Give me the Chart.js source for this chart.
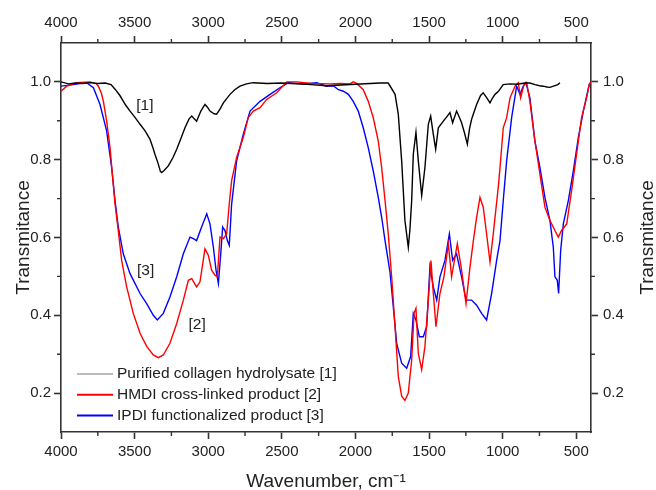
<!DOCTYPE html>
<html>
<head>
<meta charset="utf-8">
<script src="https://cdn.jsdelivr.net/npm/chart.js@4"></script>
<style>
  html, body { margin: 0; padding: 0; background: #fff; }
  #wrap { width: 656px; height: 490px; position: relative; }
</style>
</head>
<body>
<div id="wrap"><canvas id="ftir"></canvas></div>
<script>
// FTIR spectra: transmittance vs wavenumber (cm-1)
const seriesNames = [
    'Purified collagen hydrolysate [1]',
    'HMDI cross-linked product [2]',
    'IPDI functionalized product [3]'
];
const seriesColors = ['#000000', '#ff0000', '#0000ff'];

const collagenWn = [4000, 3950, 3900, 3850, 3800, 3750, 3700, 3660, 3630, 3600, 3560, 3531, 3500, 3463, 3430, 3396, 3375, 3362, 3340, 3325, 3316, 3300, 3271, 3240, 3214, 3185, 3158, 3130, 3112, 3095, 3079, 3050, 3022, 3005, 2988, 2960, 2943, 2920, 2897, 2852, 2820, 2784, 2740, 2694, 2600, 2500, 2400, 2300, 2200, 2100, 2000, 1900, 1833, 1777, 1731, 1709, 1686, 1664, 1641, 1630, 1618, 1607, 1589, 1573, 1550, 1528, 1505, 1489, 1471, 1455, 1437, 1403, 1380, 1358, 1340, 1313, 1295, 1279, 1260, 1240, 1225, 1211, 1177, 1150, 1132, 1110, 1086, 1070, 1052, 1030, 996, 950, 900, 850, 815, 780, 750, 724, 700, 679, 650, 625, 611];
const collagenT = [1.0, 0.995, 0.997, 0.996, 0.998, 0.996, 0.997, 0.993, 0.98, 0.965, 0.94, 0.925, 0.91, 0.891, 0.875, 0.853, 0.83, 0.814, 0.79, 0.77, 0.767, 0.772, 0.784, 0.805, 0.827, 0.855, 0.882, 0.905, 0.912, 0.905, 0.899, 0.925, 0.942, 0.935, 0.925, 0.918, 0.917, 0.93, 0.946, 0.968, 0.98, 0.989, 0.995, 0.998, 0.996, 0.997, 0.995, 0.993, 0.99, 0.992, 0.994, 0.996, 0.997, 0.997, 0.968, 0.917, 0.797, 0.644, 0.575, 0.62, 0.695, 0.814, 0.87, 0.797, 0.708, 0.78, 0.891, 0.912, 0.865, 0.827, 0.882, 0.899, 0.91, 0.921, 0.895, 0.925, 0.91, 0.895, 0.87, 0.84, 0.88, 0.904, 0.942, 0.965, 0.972, 0.96, 0.946, 0.958, 0.968, 0.975, 0.993, 0.995, 0.994, 0.997, 0.997, 0.993, 0.99, 0.989, 0.987, 0.986, 0.99, 0.993, 0.998];

const hmdiWn = [4000, 3961, 3893, 3803, 3760, 3746, 3725, 3712, 3690, 3667, 3649, 3633, 3611, 3588, 3554, 3509, 3463, 3418, 3373, 3339, 3305, 3260, 3214, 3169, 3135, 3112, 3079, 3056, 3022, 2999, 2977, 2954, 2938, 2920, 2897, 2875, 2857, 2841, 2807, 2762, 2728, 2694, 2648, 2603, 2535, 2467, 2399, 2300, 2173, 2100, 2037, 2015, 1992, 1947, 1913, 1879, 1845, 1822, 1799, 1777, 1754, 1731, 1709, 1686, 1664, 1641, 1618, 1602, 1589, 1573, 1550, 1528, 1505, 1487, 1471, 1453, 1426, 1399, 1369, 1347, 1308, 1279, 1249, 1222, 1199, 1177, 1154, 1132, 1109, 1086, 1064, 1030, 1018, 996, 973, 950, 916, 894, 878, 855, 837, 815, 781, 747, 713, 679, 645, 622, 600, 565, 532, 498, 464, 430, 412, 400];
const hmdiT = [0.976, 0.989, 0.998, 1.0, 0.995, 0.989, 0.97, 0.95, 0.9, 0.831, 0.754, 0.686, 0.618, 0.541, 0.473, 0.405, 0.354, 0.32, 0.298, 0.291, 0.298, 0.328, 0.379, 0.439, 0.49, 0.494, 0.473, 0.486, 0.571, 0.554, 0.516, 0.503, 0.499, 0.601, 0.597, 0.609, 0.686, 0.746, 0.806, 0.857, 0.908, 0.925, 0.934, 0.955, 0.972, 1.0, 1.0, 0.996, 0.995, 0.996, 0.995, 1.0, 0.996, 0.98, 0.95, 0.908, 0.848, 0.78, 0.695, 0.609, 0.499, 0.371, 0.243, 0.192, 0.181, 0.2, 0.285, 0.405, 0.418, 0.302, 0.26, 0.32, 0.439, 0.541, 0.456, 0.371, 0.456, 0.499, 0.584, 0.499, 0.584, 0.516, 0.43, 0.524, 0.592, 0.652, 0.703, 0.678, 0.609, 0.537, 0.609, 0.729, 0.78, 0.882, 0.908, 0.959, 0.989, 0.998, 0.959, 0.993, 0.998, 0.95, 0.848, 0.763, 0.678, 0.644, 0.618, 0.601, 0.618, 0.635, 0.72, 0.814, 0.908, 0.959, 0.993, 1.0];

const ipdiWn = [4000, 3916, 3826, 3780, 3735, 3690, 3656, 3633, 3611, 3577, 3531, 3463, 3418, 3373, 3346, 3305, 3260, 3214, 3169, 3124, 3101, 3079, 3045, 3010, 2988, 2965, 2947, 2931, 2915, 2902, 2886, 2870, 2857, 2841, 2807, 2762, 2716, 2648, 2580, 2513, 2456, 2354, 2263, 2196, 2150, 2116, 2082, 2048, 2015, 1981, 1947, 1913, 1879, 1845, 1822, 1799, 1765, 1743, 1720, 1686, 1652, 1625, 1607, 1589, 1566, 1539, 1516, 1494, 1471, 1448, 1426, 1392, 1362, 1340, 1313, 1279, 1249, 1211, 1177, 1143, 1109, 1075, 1041, 1018, 996, 973, 939, 905, 882, 860, 842, 815, 781, 747, 713, 679, 656, 645, 629, 620, 606, 588, 554, 520, 486, 452, 412, 400];
const ipdiT = [0.989, 0.993, 0.998, 0.985, 0.942, 0.874, 0.78, 0.695, 0.627, 0.558, 0.507, 0.456, 0.43, 0.4, 0.388, 0.405, 0.447, 0.499, 0.558, 0.601, 0.597, 0.592, 0.627, 0.661, 0.635, 0.575, 0.516, 0.482, 0.558, 0.627, 0.618, 0.592, 0.58, 0.686, 0.797, 0.865, 0.925, 0.95, 0.968, 0.985, 0.998, 0.995, 0.998, 0.989, 0.99, 0.98, 0.976, 0.968, 0.95, 0.925, 0.882, 0.831, 0.771, 0.703, 0.652, 0.592, 0.51, 0.422, 0.328, 0.277, 0.264, 0.294, 0.405, 0.388, 0.345, 0.345, 0.371, 0.524, 0.473, 0.439, 0.499, 0.541, 0.609, 0.541, 0.558, 0.499, 0.439, 0.439, 0.426, 0.405, 0.388, 0.456, 0.541, 0.592, 0.695, 0.797, 0.908, 0.989, 0.968, 0.989, 0.998, 0.959, 0.848, 0.78, 0.703, 0.644, 0.575, 0.499, 0.49, 0.456, 0.567, 0.635, 0.695, 0.771, 0.857, 0.925, 0.993, 1.0];

// axis ticks
const xMajorTicks = [4000, 3500, 3000, 2500, 2000, 1500, 1000, 500];
const xMinorTicks = [3750, 3250, 2750, 2250, 1750, 1250, 750];
const yMajorTicks = [0.2, 0.4, 0.6, 0.8, 1.0];
const yMinorTicks = [0.3, 0.5, 0.7, 0.9];

// curve labels
const noteText = ['[1]', '[2]', '[3]'];
const noteWn = [3430, 3075, 3425];
const noteT = [0.94, 0.375, 0.515];

const FONT = "'Liberation Sans', Arial, sans-serif";
const AXIS_COLOR = '#333';
const TEXT_COLOR = '#222';

function toPoints(wn, t) {
    return wn.map((w, i) => ({ x: w, y: t[i] }));
}

const datasets = [
    toPoints(collagenWn, collagenT),
    toPoints(hmdiWn, hmdiT),
    toPoints(ipdiWn, ipdiT)
].map((pts, i) => ({
    label: seriesNames[i],
    data: pts,
    borderColor: seriesColors[i],
    backgroundColor: seriesColors[i],
    borderWidth: 1.4,
    pointRadius: 0,
    tension: 0,
    fill: false
}));

function axisSide(pos, size, ticks, isX) {
    return {
        type: 'linear',
        position: pos,
        min: isX ? 400 : 0.1,
        max: isX ? 4000 : 1.1,
        reverse: isX,
        afterFit: s => { if (isX) s.height = size; else s.width = size; },
        afterBuildTicks: s => { s.ticks = ticks.map(v => ({ value: v })); },
        border: { display: true, color: AXIS_COLOR, width: 1.6 },
        grid: { drawOnChartArea: false, drawTicks: true, tickLength: 7, tickColor: AXIS_COLOR, tickWidth: 1.6 },
        ticks: {
            color: TEXT_COLOR,
            font: { family: FONT, size: 15 },
            maxRotation: 0,
            autoSkip: false,
            padding: pos === 'bottom' ? 4 : pos === 'top' ? 4 : pos === 'left' ? 3 : 5,
            callback: v => isX ? String(v) : Number(v).toFixed(1)
        }
    };
}

// short minor ticks, placed through the scales
const minorTicks = {
    id: 'minorTicks',
    afterDraw(chart) {
        const ctx = chart.ctx;
        const len = 4;
        ctx.save();
        ctx.strokeStyle = AXIS_COLOR;
        ctx.lineWidth = 1.4;
        ctx.beginPath();
        ['x', 'x2'].forEach(id => {
            const s = chart.scales[id];
            xMinorTicks.forEach(v => {
                const px = s.getPixelForValue(v);
                if (id === 'x') { ctx.moveTo(px, s.top); ctx.lineTo(px, s.top + len); }
                else { ctx.moveTo(px, s.bottom); ctx.lineTo(px, s.bottom - len); }
            });
        });
        ['y', 'y2'].forEach(id => {
            const s = chart.scales[id];
            yMinorTicks.forEach(v => {
                const py = s.getPixelForValue(v);
                if (id === 'y') { ctx.moveTo(s.right, py); ctx.lineTo(s.right - len, py); }
                else { ctx.moveTo(s.left, py); ctx.lineTo(s.left + len, py); }
            });
        });
        ctx.stroke();
        ctx.restore();
    }
};

// legend inside the plot, bottom-left, curve labels, right axis title
const insideLegend = {
    id: 'insideLegend',
    afterDatasetsDraw(chart) {
        const ctx = chart.ctx;
        const area = chart.chartArea;
        const x = chart.scales.x, y = chart.scales.y;
        ctx.save();
        ctx.font = '15.5px ' + FONT;
        ctx.textBaseline = 'middle';
        ctx.fillStyle = TEXT_COLOR;
        noteText.forEach((t, i) => {
            ctx.textAlign = 'center';
            ctx.fillText(t, x.getPixelForValue(noteWn[i]), y.getPixelForValue(noteT[i]));
        });
        const rowGap = 20.8;
        const x0 = area.left + 16, x1 = area.left + 52;
        chart.data.datasets.forEach((ds, i) => {
            const py = area.bottom - 58 + i * rowGap;
            ctx.strokeStyle = i === 0 ? '#777' : ds.borderColor;
            ctx.lineWidth = i === 0 ? 1 : 2;
            ctx.beginPath();
            ctx.moveTo(x0, py);
            ctx.lineTo(x1, py);
            ctx.stroke();
            ctx.textAlign = 'left';
            ctx.fillStyle = TEXT_COLOR;
            ctx.fillText(ds.label, x1 + 4, py);
        });
        // right title reads bottom-to-top like the left one
        const r = chart.scales.y2;
        ctx.translate(r.right - 8, (area.top + area.bottom) / 2);
        ctx.rotate(-Math.PI / 2);
        ctx.font = '19px ' + FONT;
        ctx.textAlign = 'center';
        ctx.fillText('Transmitance', 0, 0);
        ctx.restore();
    }
};

const xBottom = axisSide('bottom', 58, xMajorTicks, true);
xBottom.title = {
    display: true,
    text: 'Wavenumber, cm\u207B\u00B9',
    color: TEXT_COLOR,
    font: { family: FONT, size: 19, lineHeight: 1 },
    padding: { top: 0, bottom: -1 }
};
const xTop = axisSide('top', 43, xMajorTicks, true);
const yLeft = axisSide('left', 61, yMajorTicks, false);
yLeft.title = {
    display: true,
    text: 'Transmitance',
    color: TEXT_COLOR,
    font: { family: FONT, size: 19, lineHeight: 1 },
    padding: { top: 14, bottom: 0 }
};
const yRight = axisSide('right', 65, yMajorTicks, false);

const chart = new Chart(document.getElementById('ftir'), {
    type: 'line',
    data: { datasets: datasets },
    options: {
        responsive: true,
        maintainAspectRatio: false,
        animation: false,
        layout: { padding: 0 },
        plugins: { legend: { display: false }, tooltip: { enabled: false } },
        scales: { x: xBottom, x2: xTop, y: yLeft, y2: yRight }
    },
    plugins: [minorTicks, insideLegend]
});
</script>
</body>
</html>
